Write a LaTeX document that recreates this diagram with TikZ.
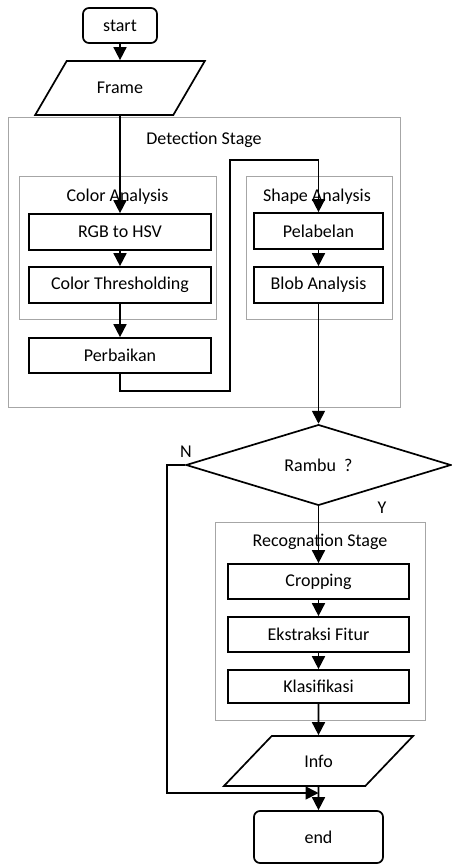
\documentclass[tikz,border=0pt]{standalone}
\usepackage{fontspec}
\setmainfont{Carlito}
\usetikzlibrary{arrows.meta,shapes.geometric}
\begin{document}
\begin{tikzpicture}[x=1pt, y=-1pt,
                    every node/.style={font=\fontsize{18}{21}\selectfont, inner sep=0pt},
                    proc/.style={draw, line width=1.7pt, minimum width=182pt, minimum height=36pt},
                    term/.style={draw, line width=1.7pt, rounded corners=6pt},
                    io/.style={draw, line width=1.7pt, trapezium, trapezium left angle=40.6,
                               trapezium right angle=139.4, trapezium stretches=true},
                    decision/.style={draw, line width=1.7pt, diamond, minimum width=265pt, minimum height=77pt},
                    group/.style={draw=gray!70, line width=1pt},
                    flow/.style={-{Triangle[width=13pt,length=13pt]}, line width=1.7pt}]
      \useasboundingbox (0,0) rectangle (451,864);
      \coordinate (j1) at (230,391);
      \coordinate (j2) at (230,160);
      \coordinate (nturn) at (167,465);
      \coordinate (join) at (318.5,793);
      \node[group, minimum width=392pt, minimum height=289pt] (detect) at (204,262.5) {};
      \node (detectlbl) at (204,140) {Detection Stage};
      \node[group, minimum width=197pt, minimum height=143pt] (colorgrp) at (117.5,247.5) {};
      \node (colorlbl) at (117.5,197) {Color Analysis};
      \node[group, minimum width=146pt, minimum height=143pt] (shapegrp) at (319,247.5) {};
      \node (shapelbl) at (317,197) {Shape Analysis};
      \node[group, minimum width=210pt, minimum height=198pt] (recoggrp) at (320,621) {};
      \node (recoglbl) at (320,542) {Recognation Stage};
      \node[term, minimum width=74pt, minimum height=35pt] (start) at (120,25.5) {start};
      \node[io, minimum width=170pt, minimum height=54pt] (frame) at (120,88) {Frame};
      \node[proc] (rgb) at (120,232) {RGB to HSV};
      \node[proc] (thresh) at (120,285) {Color Thresholding};
      \node[proc, minimum height=35pt] (perb) at (120,355.5) {Perbaikan};
      \node[proc, minimum width=129pt] (pel) at (318.5,231) {Pelabelan};
      \node[proc, minimum width=129pt] (blob) at (318.5,285) {Blob Analysis};
      \node[decision] (rambu) at (318.5,465) {Rambu\ \ ?};
      \node[proc, minimum width=181pt, minimum height=35pt] (crop) at (318.5,581.5) {Cropping};
      \node[proc, minimum width=181pt, minimum height=35pt] (ekstr) at (318.5,634.5) {Ekstraksi Fitur};
      \node[proc, minimum width=181pt, minimum height=33pt] (klas) at (318.5,686.5) {Klasifikasi};
      \node[io, minimum width=190pt, minimum height=50pt] (info) at (318.5,761) {Info};
      \node[term, minimum width=129pt, minimum height=52pt] (stop) at (318.5,837) {end};
      \node (nlbl) at (186,452) {N};
      \node (ylbl) at (382,508) {Y};
      \draw[flow] (start) -- (frame);
      \draw[flow] (frame) -- (rgb);
      \draw[flow] (rgb) -- (thresh);
      \draw[flow] (thresh) -- (perb);
      \draw[flow] (perb.south) |- (j1) -- (j2) -| (pel.north);
      \draw[flow] (pel) -- (blob);
      \draw[flow] (blob) -- (rambu);
      \draw[flow] (rambu) -- (crop);
      \draw[flow] (crop) -- (ekstr);
      \draw[flow] (ekstr) -- (klas);
      \draw[flow] (klas) -- (info);
      \draw[flow] (info) -- (stop);
      \draw[flow] (rambu.west) -- (nturn) |- (join);
    \end{tikzpicture}
\end{document}
